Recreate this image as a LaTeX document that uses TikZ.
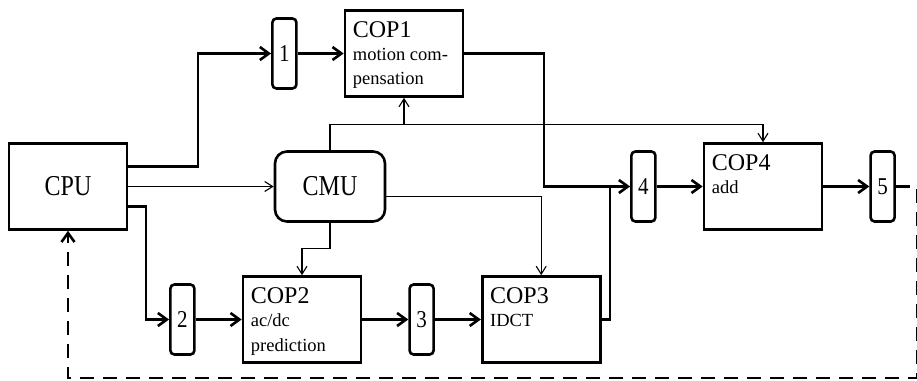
\documentclass[tikz,border=0pt]{standalone}
\usepackage{fontspec}
\setmainfont{Liberation Serif}
\usepackage{tikz}
\usetikzlibrary{positioning, arrows.meta}

\newcommand\ftitle{\fontsize{24}{26}\selectfont}
\newcommand\fsub{\fontsize{18.5}{24.5}\selectfont}
\newcommand\fbig{\fontsize{24}{28}\selectfont}
\newcommand\freg{\fontsize{21}{24}\selectfont}

\tikzset{
  blk/.style={draw, line width=2.6pt, minimum width=118pt, minimum height=86pt, inner sep=0pt},
  unit/.style={blk, font=\fbig},
  reg/.style={draw, line width=2.6pt, rounded corners=4pt, minimum width=24pt, minimum height=70pt, inner sep=0pt, font=\freg},
  ttl/.style={anchor=north west, font=\ftitle, inner xsep=9pt, inner ysep=12pt},
  dsc/.style={anchor=north west, align=left, font=\fsub, inner xsep=9pt, inner ysep=38.5pt},
  bus/.style={line width=2.6pt, -{Straight Barb[length=9pt,width=13pt]}},
  ctl/.style={line width=1.1pt, -{Straight Barb[length=8pt,width=10pt]}},
  fb/.style={bus, dash pattern=on 14pt off 9pt},
}

\begin{document}
\begin{tikzpicture}[x=1pt, y=-1pt, node distance=46pt]
    \useasboundingbox (0,0) rectangle (917,380);

    % processor and control unit
    \node[unit] (cpu) at (68,186.5) {\scalebox{1}[1.2]{CPU}};
    \node[unit, rounded corners=12pt, minimum width=110pt, minimum height=70pt] (cmu) at (330,186.5) {\scalebox{1}[1.2]{CMU}};

    % coprocessors and their buffers
    \node[blk, label={[ttl]north west:COP1}, label={[dsc]north west:motion com-\\pensation}] (cop1) at (404,53.5) {};
    \node[reg] (r1) [left=of cop1] {\scalebox{1}[1.15]{1}};

    \node[blk, label={[ttl]north west:COP2}, label={[dsc]north west:ac/dc\\prediction}] (cop2) at (302,319.5) {};
    \node[reg] (r2) [left=of cop2] {\scalebox{1}[1.15]{2}};
    \node[reg] (r3) [right=of cop2] {\scalebox{1}[1.15]{3}};
    \node[blk, label={[ttl]north west:COP3}, label={[dsc]north west:IDCT}] (cop3) [right=of r3] {};

    \node[blk, label={[ttl]north west:COP4}, label={[dsc]north west:add}] (cop4) at (763,186.5) {};
    \node[reg] (r4) [left=of cop4] {\scalebox{1}[1.15]{4}};
    \node[reg] (r5) [right=of cop4] {\scalebox{1}[1.15]{5}};

    % data paths
    \draw[bus] ([yshift=20pt]cpu.east) -| ([xshift=-73pt]r1.west) -- (r1.west);
    \draw[bus] ([yshift=-20pt]cpu.east) -| ([xshift=-23pt]r2.west) -- (r2.west);
    \draw[bus] (r1) -- (cop1);
    \draw[bus] (r2) -- (cop2);
    \draw[bus] (cop2) -- (r3);
    \draw[bus] (r3) -- (cop3);
    \draw[bus] (cop1.east) -| ([xshift=-86pt]r4.west) -- (r4.west);
    \draw[line width=2.6pt] (cop3.east) -| ([xshift=-20pt]r4.west);
    \draw[bus] (r4) -- (cop4);
    \draw[bus] (cop4) -- (r5);

    % control lines
    \draw[ctl] (cpu.east) -- (cmu.west);
    \draw[ctl] (cmu.north) |- ([yshift=-27pt]cop1.south) -- (cop1.south);
    \draw[ctl] ([yshift=-27pt]cop1.south) -| (cop4.north);
    \draw[ctl] ([yshift=-10pt]cmu.east) -| (cop3.north);
    \draw[ctl] (cmu.south) -- ([yshift=-26pt]cmu.south) -| (cop2.north);

    % feedback to the cpu
    \draw[fb] (r5.east) -- ++(21,0) |- ([yshift=-147pt]cpu.south) -- (cpu.south);
\end{tikzpicture}
\end{document}
